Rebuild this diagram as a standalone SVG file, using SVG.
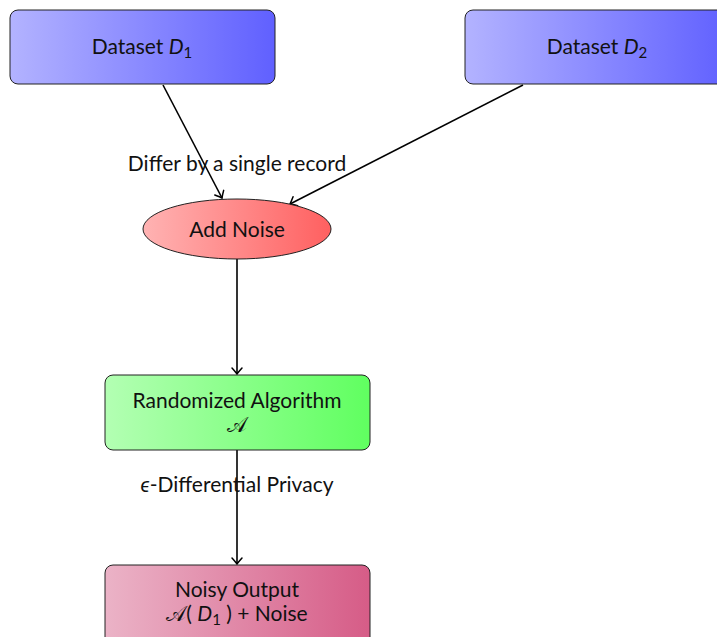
<svg xmlns="http://www.w3.org/2000/svg" width="717" height="637" viewBox="0 0 717 637">
<defs>
<linearGradient id="gBlue" x1="0" y1="0" x2="1" y2="0"><stop offset="0" stop-color="#b3b3ff"/><stop offset="1" stop-color="#6060ff"/></linearGradient>
<linearGradient id="gRed" x1="0" y1="0" x2="1" y2="0"><stop offset="0" stop-color="#ffb3b3"/><stop offset="1" stop-color="#ff6060"/></linearGradient>
<linearGradient id="gGreen" x1="0" y1="0" x2="1" y2="0"><stop offset="0" stop-color="#b3ffb3"/><stop offset="1" stop-color="#60ff60"/></linearGradient>
<linearGradient id="gPink" x1="0" y1="0" x2="1" y2="0"><stop offset="0" stop-color="#ebb3c7"/><stop offset="1" stop-color="#d65c87"/></linearGradient>
<marker id="arr" markerWidth="14" markerHeight="14" refX="0" refY="0" viewBox="-8 -7 10 14" orient="auto" markerUnits="userSpaceOnUse">
<path d="M -6,-5 Q -1.5,-1 0,0 Q -1.5,1 -6,5" fill="none" stroke="#000" stroke-width="1.5" stroke-linecap="round"/>
</marker>
</defs>
<style>
.box{stroke:#222;stroke-width:1}
.t{font-family:Lato,"Noto Sans","DejaVu Sans",sans-serif;font-size:21px;fill:#111;text-anchor:middle}
.c{fill:none;stroke:#000;stroke-width:1.6;marker-end:url(#arr)}
</style>
<g id="connectors">
<line class="c" x1="163" y1="85" x2="222" y2="198"/>
<line class="c" x1="523" y1="85" x2="290" y2="204"/>
<line class="c" x1="237" y1="259" x2="237" y2="374"/>
<line class="c" x1="237" y1="450" x2="237" y2="564"/>
<text class="t" x="237" y="171">Differ by a single record</text>
<text class="t" x="237" y="492"><tspan font-style="italic">ϵ</tspan>-Differential Privacy</text>
</g>
<g id="d1">
<rect class="box" x="10" y="10" width="265" height="74" rx="8" fill="url(#gBlue)"/>
<text class="t" x="142" y="54">Dataset <tspan font-style="italic">D</tspan><tspan font-size="15" dy="4">1</tspan></text>
</g>
<g id="d2">
<rect class="box" x="465" y="10" width="265" height="74" rx="8" fill="url(#gBlue)"/>
<text class="t" x="597" y="54">Dataset <tspan font-style="italic">D</tspan><tspan font-size="15" dy="4">2</tspan></text>
</g>
<g id="noise">
<ellipse class="box" cx="237" cy="229" rx="94" ry="30" fill="url(#gRed)"/>
<text class="t" x="237" y="237">Add Noise</text>
</g>
<g id="algo">
<rect class="box" x="105" y="375" width="265" height="75" rx="8" fill="url(#gGreen)"/>
<text class="t" x="237" y="408">Randomized Algorithm</text>
<text class="t" x="237" y="432">𝒜</text>
</g>
<g id="output">
<rect class="box" x="105" y="565" width="265" height="80" rx="8" fill="url(#gPink)"/>
<text class="t" x="237" y="597">Noisy Output</text>
<text class="t" x="237" y="621"><tspan>𝒜( </tspan><tspan font-style="italic">D</tspan><tspan font-size="15" dy="4">1</tspan><tspan dy="-4"> ) + Noise</tspan></text>
</g>
</svg>
